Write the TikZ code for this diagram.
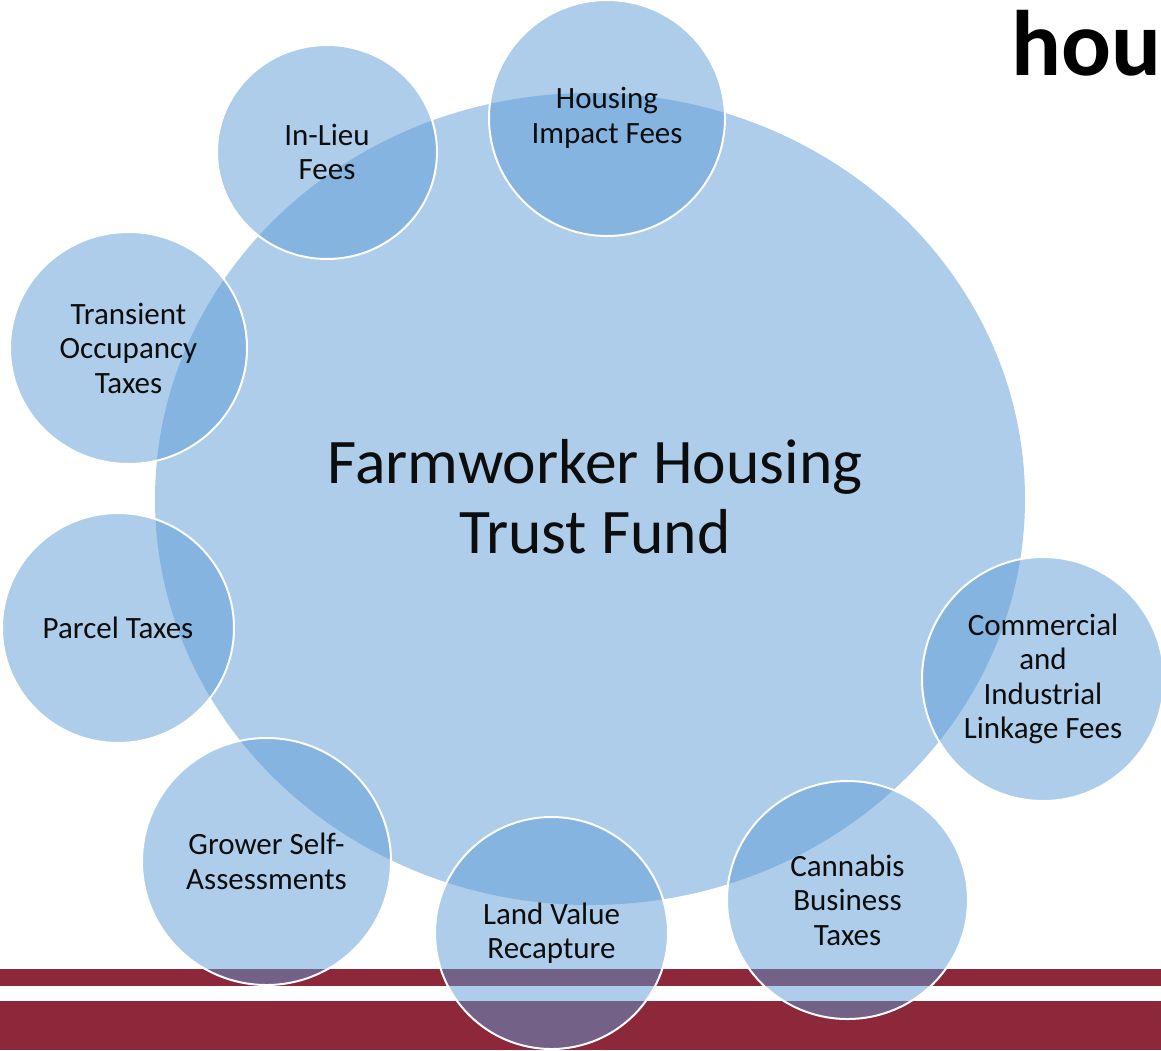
\documentclass[tikz,border=0pt]{standalone}
\usepackage{fontspec}
\setmainfont{Carlito}
\usetikzlibrary{shapes.geometric}
\definecolor{FHBlue}{HTML}{5B9BD5}
\definecolor{FHRed}{HTML}{8C2839}
\definecolor{FHText}{HTML}{0D0D0D}

\begin{document}
\begin{tikzpicture}[x=1pt,y=-1pt,
  hub/.style={ellipse,fill=FHBlue,fill opacity=0.5,text opacity=1,inner sep=0pt,
    align=center,text=FHText,font=\fontsize{63.5}{70}\selectfont},
  bubble/.style={ellipse,fill=FHBlue,fill opacity=0.5,draw=white,draw opacity=1,
    line width=2pt,text opacity=1,inner sep=0pt,align=center,text=FHText,
    font=\fontsize{31}{34.5}\selectfont}]
\path[use as bounding box] (0,0) rectangle (1161,1050);
\clip (0,0) rectangle (1161,1050);
% footer bars
\fill[FHRed] (0,969) rectangle (1161,986);
\fill[FHRed] (0,1001) rectangle (1161,1050);
% hub
\node[hub,minimum width=870pt,minimum height=812pt] (fund) at (590,499) {};
\node[align=center,inner sep=0pt,text=FHText,font=\fontsize{63.5}{70}\selectfont] (fundlabel) at (595,497) {Farmworker Housing\\Trust Fund};
% sources
\node[bubble,minimum width=220pt,minimum height=214pt] (inlieu) at (327,152) {In-Lieu\\Fees};
\node[bubble,minimum width=236pt,minimum height=236pt] (impact) at (607,118) {Housing\\Impact Fees};
\node[bubble,minimum width=237pt,minimum height=232pt] (transient) at (128.5,348) {Transient\\Occupancy\\Taxes};
\node[bubble,minimum width=232pt,minimum height=230pt] (parcel) at (118,628) {Parcel Taxes};
\node[bubble,minimum width=249pt,minimum height=247pt] (grower) at (266.5,861.5) {Grower Self-\\Assessments};
\node[bubble,minimum width=233pt,minimum height=232pt] (landvalue) at (551.5,933) {Land Value\\Recapture};
\node[bubble,minimum width=241pt,minimum height=238pt] (cannabis) at (847.5,900) {Cannabis\\Business\\Taxes};
\node[bubble,minimum width=242pt,minimum height=244pt] (linkage) at (1043,679) {Commercial\\and\\Industrial\\Linkage Fees};
% clipped heading
\node[anchor=base west,inner sep=0pt,font=\fontsize{93}{100}\selectfont\bfseries] (hou) at (1011,75) {hou};
\end{tikzpicture}
\end{document}
